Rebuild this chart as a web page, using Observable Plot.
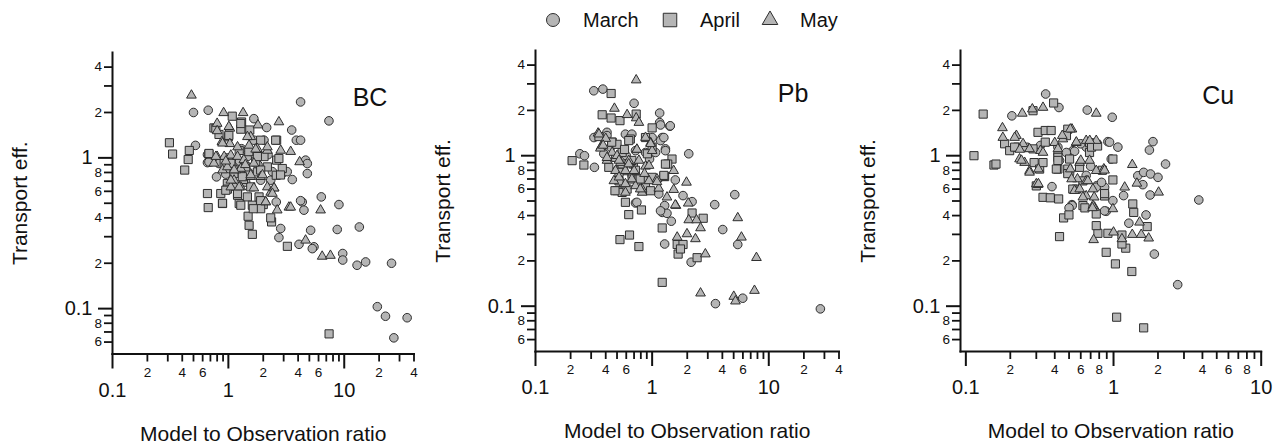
<!DOCTYPE html>
<html><head><meta charset="utf-8">
<script src="https://cdn.jsdelivr.net/npm/d3@7"></script>
<script src="https://cdn.jsdelivr.net/npm/@observablehq/plot@0.6"></script>
<style>
body{margin:0;background:#fff;font-family:"Liberation Sans",Arial,sans-serif;color:#111;}
#legend{width:1275px;height:40px;}
#row{display:flex;width:1275px;}
</style></head><body>
<div id="legend"></div><div id="row"></div>
<script>
// ---- series: [Model to Observation ratio, Transport efficiency] ----
const bcMarch = [[0.50,2.0],[0.67,2.07],[0.52,1.21],[1.66,1.82],[2.14,1.59],[3.52,1.53],[3.86,1.31],[4.2,1.31],[4.2,2.35],[7.38,1.76],[4.64,0.966],[4.8,0.917],[4.8,0.787],[3.56,0.718],[6.34,0.551],[4.34,0.51],[4.49,0.45],[2.59,0.51],[2.83,0.34],[2.73,0.296],[5.13,0.331],[4.07,0.267],[5.48,0.257],[0.79,0.748],[0.83,0.917],[1.12,0.871],[1.36,0.711],[1.90,0.711],[2.32,0.711],[1.46,1.02],[0.705,0.94],[2.03,1.31],[1.66,1.31],[2.92,0.787],[9.0,0.49],[8.7,0.335],[13.5,0.348],[9.7,0.232],[9.7,0.21],[12.9,0.194],[15.3,0.204],[25.6,0.2],[19.3,0.103],[22.7,0.089],[26.8,0.064],[34.9,0.087],[5.3,0.25],[0.66,1.05],[0.66,0.93],[1.25,0.95],[1.5,0.8],[1.1,0.65],[0.95,0.78],[0.68,0.94],[1.41,0.69],[2.4,0.81],[3.22,0.81],[4.2,0.52],[1.3,1.15],[1.0,0.85],[1.8,0.9],[2.2,1.05]];
const bcApril = [[0.31,1.26],[0.33,1.06],[0.46,1.12],[0.45,0.975],[0.42,0.83],[0.68,1.06],[1.08,1.89],[1.30,1.73],[1.28,1.55],[1.53,1.53],[1.0,1.38],[0.75,1.58],[2.61,1.31],[2.03,1.02],[1.66,1.10],[1.72,0.94],[0.66,0.58],[0.67,0.468],[0.89,0.498],[0.86,0.58],[1.24,0.498],[1.2,0.565],[1.46,0.551],[1.61,0.485],[1.84,0.551],[2.59,0.767],[2.92,0.85],[2.61,0.966],[1.48,0.41],[1.51,0.357],[1.61,0.311],[2.36,0.376],[3.23,0.259],[1.12,0.787],[1.41,0.871],[1.78,0.807],[2.17,0.871],[0.98,0.676],[1.56,0.642],[0.92,0.917],[1.24,1.12],[7.4,0.068],[0.83,1.43],[0.98,0.62],[1.0,1.0],[1.9,1.31],[2.0,0.49],[1.35,0.72],[1.28,1.69],[0.78,1.57],[1.01,1.41],[0.68,1.07],[1.78,1.02],[2.56,1.31],[2.73,0.99],[2.82,0.77],[1.5,1.1],[0.95,0.61],[1.2,0.58],[1.28,0.485],[1.9,0.52],[1.9,0.46],[1.64,0.46],[2.32,0.4],[1.32,0.75],[1.9,0.83],[1.05,0.92],[0.89,0.5]];
const bcMay = [[0.48,2.6],[0.91,1.99],[1.34,1.99],[0.80,1.69],[1.03,1.57],[1.80,1.65],[2.73,1.73],[0.80,1.51],[0.88,1.28],[1.03,1.24],[1.56,1.38],[1.51,1.21],[1.78,1.15],[2.17,1.12],[2.83,1.12],[3.45,1.10],[4.12,0.94],[0.80,1.02],[0.92,1.02],[1.05,1.04],[1.2,1.02],[0.89,0.83],[1.16,0.83],[1.28,0.85],[1.56,0.75],[1.90,0.75],[1.12,0.71],[1.05,0.64],[1.28,0.64],[1.66,0.63],[2.17,0.64],[2.48,0.63],[2.32,0.59],[2.10,0.51],[2.64,0.45],[3.33,0.47],[6.25,0.45],[4.64,0.284],[6.45,0.222],[7.6,0.225],[0.98,0.87],[1.36,0.97],[1.66,0.92],[0.75,0.92],[1.01,1.61],[1.46,1.38],[0.89,1.25],[1.2,1.18],[1.72,1.14],[2.17,1.18],[0.78,1.02],[1.12,0.83],[1.56,0.77],[1.97,0.77],[1.05,0.71],[1.24,0.64],[2.48,0.63],[2.1,0.51],[2.4,0.58],[3.45,0.47],[0.95,0.95],[1.4,0.9]];

const pbMarch = [[0.316,2.7],[0.378,2.77],[0.70,2.23],[1.16,1.92],[1.16,1.66],[1.42,1.57],[0.41,1.43],[1.22,1.32],[1.3,1.11],[2.06,1.03],[0.24,1.03],[0.263,1.0],[0.32,0.837],[1.58,0.69],[1.84,0.543],[2.2,0.495],[1.28,0.466],[1.22,0.42],[1.34,0.414],[1.46,0.367],[3.44,0.473],[5.11,0.551],[4.03,0.323],[5.42,0.257],[1.28,0.259],[2.16,0.196],[3.49,0.104],[5.98,0.113],[27.7,0.096],[0.72,0.485],[1.0,1.32],[0.59,1.39],[0.67,1.39],[0.317,1.32],[1.18,1.26],[1.3,1.08],[0.385,1.03],[0.44,1.14],[0.72,1.08],[0.877,1.05],[1.07,1.05],[0.674,0.736],[0.57,0.63],[0.877,0.68],[1.14,0.557],[0.5,0.8],[0.41,1.36],[1.43,1.58],[1.18,1.6],[1.26,1.32],[0.74,0.49],[1.18,0.43],[0.6,1.0],[0.95,0.95]];
const pbApril = [[0.445,2.59],[0.373,1.87],[0.445,1.78],[0.53,1.71],[0.73,1.89],[1.0,1.53],[0.206,0.927],[0.26,0.867],[1.48,0.95],[1.36,0.88],[1.28,0.726],[0.59,0.49],[0.63,0.406],[0.81,0.436],[0.53,0.277],[0.64,0.297],[0.77,0.249],[1.22,0.331],[1.22,0.144],[1.64,0.257],[1.84,0.257],[1.67,0.222],[1.75,0.24],[2.2,0.416],[2.74,0.384],[2.43,0.21],[0.35,1.34],[0.454,1.23],[0.553,1.05],[0.65,1.29],[0.877,1.32],[1.0,1.14],[0.485,0.975],[0.57,0.795],[0.674,0.70],[0.77,0.70],[0.5,0.586],[0.553,0.57],[1.0,0.718],[0.77,0.65],[0.877,0.62],[0.425,0.837],[0.52,0.68],[0.69,0.88],[0.553,0.88],[1.26,0.73],[0.5,1.19],[0.45,1.23],[0.63,1.26],[0.52,0.775],[0.79,0.70],[1.3,0.88],[0.48,0.585],[0.61,0.6],[0.97,0.585],[1.26,0.74],[0.91,1.03],[0.67,0.93],[0.58,1.1],[0.72,0.8]];
const pbMay = [[0.73,3.18],[0.475,2.06],[0.61,1.87],[0.73,1.78],[0.77,1.66],[0.344,1.41],[0.365,1.15],[1.53,0.795],[1.97,0.665],[1.53,0.595],[1.6,0.466],[2.04,0.483],[2.06,0.374],[2.4,0.374],[2.6,0.331],[1.64,0.287],[1.99,0.302],[2.35,0.28],[2.86,0.222],[5.42,0.386],[5.83,0.287],[7.84,0.21],[2.6,0.122],[5.01,0.116],[5.18,0.108],[7.54,0.127],[1.14,0.607],[0.36,1.12],[0.41,0.93],[0.454,1.05],[0.5,1.0],[0.535,0.9],[0.63,0.927],[0.77,0.93],[0.877,0.85],[0.59,0.795],[0.70,0.795],[0.485,0.795],[0.47,0.68],[0.59,0.65],[0.72,0.63],[0.82,0.6],[0.94,0.68],[1.1,0.70],[0.97,1.22],[0.74,1.1],[0.877,1.32],[1.0,1.08],[0.59,0.57],[0.82,0.57],[0.4,1.3],[0.35,1.39],[0.38,1.17],[0.41,0.97],[0.52,0.93],[0.63,0.88],[0.94,0.86],[0.74,1.1],[0.97,1.2],[0.67,0.70],[0.52,0.72],[0.79,0.6],[1.1,0.67],[1.34,0.53],[1.58,0.47],[0.86,0.76]];

const cuMarch = [[0.347,2.57],[0.427,2.09],[0.205,1.84],[0.664,2.01],[0.98,1.8],[0.916,1.24],[1.07,1.14],[1.85,1.24],[1.75,1.09],[2.25,0.88],[1.46,0.736],[1.6,0.775],[1.78,0.756],[2.0,0.718],[1.58,0.642],[1.77,0.548],[1.66,0.404],[1.89,0.222],[2.72,0.139],[3.78,0.508],[1.27,0.356],[1.17,0.543],[0.99,0.503],[0.892,0.427],[0.77,0.632],[0.383,0.623],[0.523,0.473],[0.531,1.08],[0.42,1.03],[0.545,1.07],[0.94,1.23],[0.431,0.93],[0.525,0.466],[0.653,0.74],[0.764,0.617],[0.87,0.617],[0.504,0.756],[0.32,1.17],[0.653,1.14],[0.479,1.05],[0.42,1.14],[0.965,0.95],[0.83,0.665],[0.87,0.43],[0.5,0.45],[0.6,1.2],[0.7,0.85]];
const cuApril = [[0.131,1.89],[0.1135,1.0],[0.155,0.867],[0.16,0.88],[0.393,2.24],[0.431,0.29],[0.333,0.529],[0.373,0.525],[0.425,0.516],[0.459,0.386],[0.499,0.404],[0.892,0.228],[1.03,0.191],[1.33,0.17],[1.05,0.0845],[1.6,0.0718],[1.21,0.243],[1.14,0.259],[1.35,0.478],[1.37,0.42],[1.69,0.338],[1.14,0.297],[0.916,0.305],[0.784,0.305],[0.764,0.343],[0.764,0.41],[0.99,0.69],[0.99,0.95],[0.285,1.99],[0.308,1.43],[0.345,1.47],[0.378,1.47],[0.49,1.5],[0.48,1.36],[0.183,1.2],[0.225,1.14],[0.285,1.11],[0.345,1.23],[0.198,1.08],[0.29,0.9],[0.316,0.815],[0.42,0.815],[0.49,0.815],[0.42,0.975],[0.504,0.95],[0.688,1.05],[0.764,1.19],[0.688,1.22],[0.589,0.837],[0.621,0.466],[0.87,0.54],[0.84,0.8],[0.62,0.68],[0.56,0.6],[0.3,0.63],[0.25,1.14],[0.214,1.14],[0.333,0.9],[0.42,0.93],[0.41,0.815],[0.49,0.76],[0.71,1.14],[0.78,1.16],[0.53,0.6],[0.64,0.45],[0.87,0.56]];
const cuMay = [[0.177,1.53],[0.178,1.32],[0.241,1.91],[0.282,2.04],[0.333,2.09],[0.764,1.91],[0.523,1.5],[1.34,0.871],[1.44,0.655],[2.02,0.571],[1.19,0.617],[1.5,0.361],[1.34,0.299],[1.54,0.299],[1.73,0.283],[1.14,0.28],[1.0,0.31],[0.733,0.276],[0.744,0.454],[0.99,0.443],[0.308,0.642],[0.22,1.36],[0.244,1.2],[0.27,1.11],[0.32,1.08],[0.231,0.95],[0.25,0.9],[0.27,0.795],[0.31,0.815],[0.3,0.649],[0.4,1.22],[0.454,1.29],[0.51,1.5],[0.559,1.22],[0.42,1.11],[0.589,0.9],[0.688,0.93],[0.51,0.815],[0.57,0.7],[0.653,0.68],[0.764,0.795],[0.86,0.815],[0.764,1.26],[0.653,1.26],[0.545,0.586],[0.653,0.54],[0.725,0.466],[0.725,0.6],[0.214,1.32],[0.232,1.1],[0.333,1.05],[0.238,0.93],[0.27,0.775],[0.31,0.65],[0.45,1.36],[0.56,1.23],[0.69,1.26],[0.6,0.93],[0.52,0.7],[0.59,0.6],[0.67,0.68],[0.62,0.53],[0.74,0.53],[0.72,0.45],[0.87,0.8]];

// ---- ticks and labels ----
const panelNames = ["BC", "Pb", "Cu"];
const months = ["March", "April", "May"];
const yMajorTicks = [0.1, 1];
const yMinorTicks = [0.06,0.07,0.08,0.09,0.2,0.3,0.4,0.5,0.6,0.7,0.8,0.9,2,3,4];
const yMinorLabeled = [0.06,0.08,0.2,0.4,0.6,0.8,2,4];
const xMajorTicks = [0.1, 1, 10];
const xMinorWide = [0.2,0.3,0.4,0.5,0.6,0.7,0.8,0.9,2,3,4,5,6,7,8,9,20,30,40];
const xMinorWideLabeled = [0.2,0.4,0.6,2,4,6,20,40];
const xMinorCu = [0.2,0.3,0.4,0.5,0.6,0.7,0.8,0.9,2,3,4,5,6,7,8,9];
const xMinorCuLabeled = [0.2,0.4,0.6,0.8,2,4,6,8];
const xTitle = "Model to Observation ratio";
const yTitle = "Transport eff.";

const FILL = "#b5b5b5", STROKE = "#2e2e2e", INK = "#111";
const digit = d => String(Math.round(d / Math.pow(10, Math.floor(Math.log10(d) + 1e-9))));
const blank = () => "";

function panel({name, series, xDomain, xMinor, xLabeled, mt, mb, ml, mr, ldx, ldy}) {
  const [march, april, may] = series;
  return Plot.plot({
    width: 425, height: 403,
    marginTop: mt, marginBottom: mb, marginLeft: ml, marginRight: mr,
    style: {fontFamily: '"Liberation Sans", Arial, sans-serif', color: INK, background: "#fff", overflow: "visible"},
    x: {type: "log", domain: xDomain, label: null},
    y: {type: "log", domain: [0.05, 5], label: null},
    marks: [
      // tick lines
      Plot.axisY(yMinorTicks, {tickSize: 8, tickFormat: blank, stroke: INK, strokeWidth: 1.8, label: null}),
      Plot.axisY(yMajorTicks, {tickSize: 14, tickFormat: blank, stroke: INK, strokeWidth: 2, label: null}),
      Plot.axisX(xMinor, {tickSize: 8, tickFormat: blank, stroke: INK, strokeWidth: 1.8, label: null}),
      Plot.axisX(xMajorTicks, {tickSize: 15, tickFormat: blank, stroke: INK, strokeWidth: 2, label: null}),
      // tick labels
      Plot.text(yMinorLabeled, {y: d => d, text: digit, frameAnchor: "left", dx: -10.5, textAnchor: "end", lineAnchor: "middle", fontSize: 13.5, fill: INK}),
      Plot.text(yMajorTicks, {y: d => d, text: d => String(d), frameAnchor: "left", dx: -20, textAnchor: "end", lineAnchor: "middle", fontSize: 20, fill: INK}),
      Plot.text(xLabeled, {x: d => d, text: digit, frameAnchor: "bottom", dy: 18.5, textAnchor: "middle", lineAnchor: "middle", fontSize: 13.5, fill: INK}),
      Plot.text(xMajorTicks, {x: d => d, text: d => String(d), frameAnchor: "bottom", dy: 36.5, textAnchor: "middle", lineAnchor: "middle", fontSize: 20, fill: INK}),
      // axis lines
      Plot.frame({anchor: "left", stroke: INK, strokeWidth: 2}),
      Plot.frame({anchor: "bottom", stroke: INK, strokeWidth: 2}),
      // data
      Plot.dot(march, {x: d => d[0], y: d => d[1], symbol: "circle", r: 4.3, fill: FILL, stroke: STROKE, strokeWidth: 1}),
      Plot.dot(april, {x: d => d[0], y: d => d[1], symbol: "square", r: 4.6, fill: FILL, stroke: STROKE, strokeWidth: 1}),
      Plot.dot(may, {x: d => d[0], y: d => d[1], symbol: "triangle", r: 3.6, fill: FILL, stroke: STROKE, strokeWidth: 1}),
      // titles
      Plot.text([name], {frameAnchor: "top-right", dx: ldx, dy: ldy, fontSize: 25, textAnchor: "middle", lineAnchor: "middle", fill: INK}),
      Plot.text([xTitle], {frameAnchor: "bottom", dy: 80, fontSize: 21, textAnchor: "middle", lineAnchor: "middle", fill: INK}),
      Plot.text([yTitle], {frameAnchor: "left", dx: -92, rotate: -90, fontSize: 21, textAnchor: "middle", lineAnchor: "middle", fill: INK})
    ]
  });
}

const row = document.getElementById("row");
row.append(panel({name: panelNames[0], series: [bcMarch, bcApril, bcMay], xDomain: [0.1, 40], xMinor: xMinorWide, xLabeled: xMinorWideLabeled, mt: 12, mb: 89.5, ml: 112, mr: 11.5, ldx: -44, ldy: 45}));
row.append(panel({name: panelNames[1], series: [pbMarch, pbApril, pbMay], xDomain: [0.1, 40], xMinor: xMinorWide, xLabeled: xMinorWideLabeled, mt: 10, mb: 92, ml: 110, mr: 11.5, ldx: -46, ldy: 43}));
row.append(panel({name: panelNames[2], series: [cuMarch, cuApril, cuMay], xDomain: [0.092, 10], xMinor: xMinorCu, xLabeled: xMinorCuLabeled, mt: 10, mb: 92, ml: 110, mr: 14.3, ldx: -43, ldy: 45}));

// ---- legend ----
const lg = d3.select("#legend").append("svg").attr("width", 1275).attr("height", 40)
  .style("font-family", '"Liberation Sans", Arial, sans-serif');
const legendX = [553, 670, 770];
const legendSymbols = [d3.symbolCircle, d3.symbolSquare, d3.symbolTriangle];
const legendSizes = [Math.PI * 6.5 * 6.5, 13.5 * 13.5, Math.PI * 5.8 * 5.8];
months.forEach((m, i) => {
  const g = lg.append("g").attr("transform", `translate(${legendX[i]},20)`);
  g.append("path").attr("d", d3.symbol(legendSymbols[i], legendSizes[i])())
    .attr("fill", FILL).attr("stroke", STROKE).attr("stroke-width", 1);
  g.append("text").attr("x", 30).attr("y", 0).attr("dy", "0.35em")
    .attr("font-size", 20).attr("fill", INK).text(m);
});
</script>
</body></html>
